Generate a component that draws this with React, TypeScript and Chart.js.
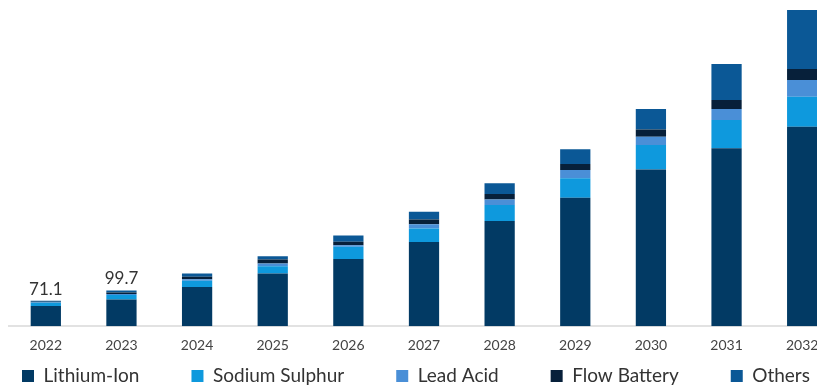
import React, { useEffect, useRef } from "react";
import { Chart, registerables } from "chart.js";

Chart.register(...registerables);

const years = ["2022", "2023", "2024", "2025", "2026", "2027", "2028", "2029", "2030", "2031", "2032"];
const lithiumIon = [56, 74.5, 109.6, 147, 187, 235, 293, 358, 437, 496, 556];
const sodiumSulphur = [9.5, 12.5, 17, 20.4, 34.3, 37.4, 44.6, 54.1, 67.8, 79, 83.7];
const leadAcid = [1.5, 3.1, 4.5, 7.5, 4.7, 12, 15.9, 23.2, 23.2, 30.7, 46.6];
const flowBattery = [1.5, 4, 6.5, 11.2, 9.2, 13.1, 14.8, 16.7, 20.6, 25.1, 30.7];
const others = [2.6, 5.6, 9.4, 9.2, 17.9, 21.2, 29.9, 41, 56.6, 100.4, 164.6];
const totalLabels = ["71.1", "99.7"];

const seriesNames = ["Lithium-Ion", "Sodium Sulphur", "Lead Acid", "Flow Battery", "Others"];
const seriesColors = ["#023a64", "#0e99dd", "#4a8fd7", "#07203a", "#0b5896"];
const FONT = "Lato, 'Noto Sans', sans-serif";

const LEGEND_PAD = 52;
const LEGEND_FONT = 19;
const LEGEND_BOX_H = 25;
const LEGEND_ITEM_CENTER = 368; // canvas y
const LEGEND_START_X = 32; // canvas x of first legend box
const CANVAS_W = 850;
const CANVAS_H = 382;

export default function App() {
  const ref = useRef<HTMLCanvasElement | null>(null);
  useEffect(() => {
    if (!ref.current) return;
    const values = [lithiumIon, sodiumSulphur, leadAcid, flowBattery, others];
    const totalsPlugin = {
      id: "totals",
      afterDatasetsDraw(chart: any) {
        const meta = chart.getDatasetMeta(values.length - 1);
        const ctx = chart.ctx;
        ctx.save();
        ctx.font = `17px ${FONT}`;
        ctx.fillStyle = "#333333";
        ctx.textAlign = "center";
        ctx.textBaseline = "bottom";
        totalLabels.forEach((t, i) => {
          const el = meta.data[i];
          if (el) ctx.fillText(t, el.x, el.y - 3);
        });
        ctx.restore();
      },
    };
    const legendLayoutPlugin = {
      id: "legendLayout",
      beforeInit(chart: any) {
        const lg = chart.legend;
        if (!lg) return;
        const orig = lg.fit.bind(lg);
        lg.fit = function () {
          const mw = this.maxWidth;
          this.maxWidth = 5000;
          orig();
          this.maxWidth = mw;
          this.width = mw;
          this.height = LEGEND_BOX_H;
        };
      },
      afterLayout(chart: any) {
        const lg = chart.legend;
        if (!lg) return;
        const itemH = Math.max(LEGEND_FONT, 12);
        lg.top = LEGEND_ITEM_CENTER - itemH / 2 - LEGEND_PAD;
        lg.bottom = CANVAS_H;
        lg.left = LEGEND_START_X - LEGEND_PAD;
        lg.right = 5000;
      },
    };
    const chart = new Chart(ref.current, {
      type: "bar",
      data: {
        labels: years,
        datasets: values.map((v, i) => ({
          label: seriesNames[i],
          data: v,
          backgroundColor: seriesColors[i],
          borderWidth: 0,
          categoryPercentage: 0.8,
          barPercentage: 0.5,
        })),
      },
      options: {
        animation: false,
        responsive: false,
        maintainAspectRatio: false,
        layout: { padding: { left: 18, right: 0, top: 0, bottom: 0 } },
        plugins: {
          tooltip: { enabled: false },
          legend: {
            position: "bottom",
            align: "start",
            labels: {
              boxWidth: 12,
              boxHeight: 12,
              padding: LEGEND_PAD,
              color: "#333333",
              font: { family: FONT, size: LEGEND_FONT },
            },
          },
        },
        scales: {
          x: {
            stacked: true,
            grid: { display: false, drawTicks: false },
            border: { display: true, color: "#e2e2e2", width: 2 },
            ticks: { color: "#444444", font: { family: FONT, size: 14 }, padding: 11 },
          },
          y: {
            stacked: true,
            display: false,
            min: 0,
            max: 887,
          },
        },
      },
      plugins: [legendLayoutPlugin, totalsPlugin],
    });
    return () => chart.destroy();
  }, []);
  return (
    <div style={{ width: 817, height: CANVAS_H, overflow: "hidden", position: "relative" }}>
      <canvas ref={ref} width={CANVAS_W} height={CANVAS_H} style={{ position: "absolute", left: -18, top: 0, width: CANVAS_W, height: CANVAS_H }} />
    </div>
  );
}
